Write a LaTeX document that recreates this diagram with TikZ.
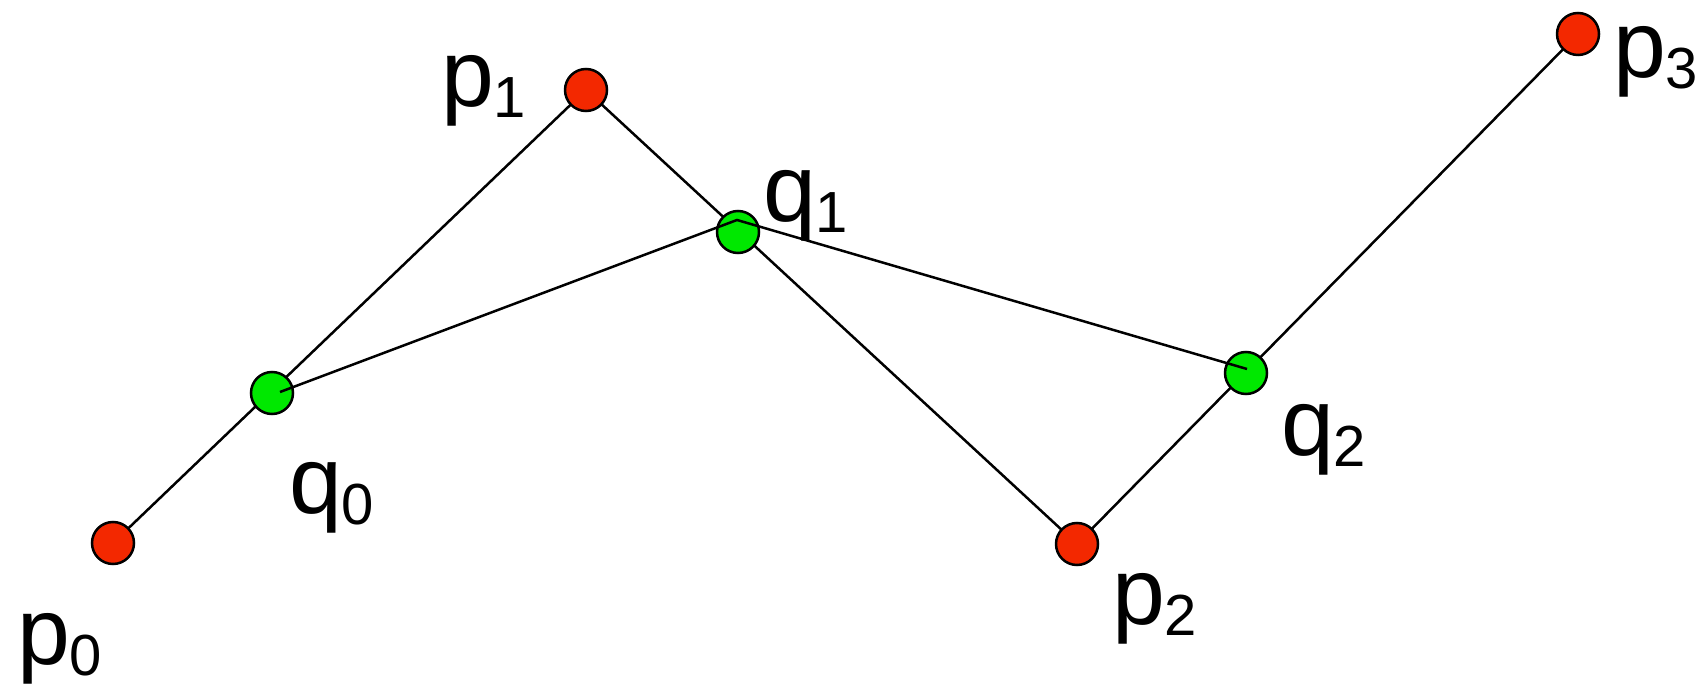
\documentclass[tikz,border=0pt]{standalone}
\usepackage{fontspec}
\setmainfont{Liberation Sans}
\usetikzlibrary{backgrounds}
\definecolor{ptred}{RGB}{243,40,0}
\definecolor{ptgreen}{RGB}{0,232,0}
\newcommand{\lbl}[2]{{\fontsize{95}{95}\selectfont #1}\raisebox{-11pt}{\fontsize{58}{58}\selectfont #2}}
\tikzset{
  pdot/.style={circle, draw=black, line width=2.5pt, fill=ptred, minimum size=42pt, inner sep=0pt},
  qdot/.style={circle, draw=black, line width=2.5pt, fill=ptgreen, minimum size=42pt, inner sep=0pt},
  seg/.style={draw=black, line width=2.5pt},
  lab/.style={anchor=base west, inner sep=0pt, outer sep=0pt}
}
\begin{document}
\begin{tikzpicture}[x=1pt, y=-1pt]
\useasboundingbox (0,0) rectangle (1707,684);
% control points
\node[pdot] (p0) at (113,543) {};
\node[pdot] (p1) at (586,90) {};
\node[pdot] (p2) at (1077,544) {};
\node[pdot] (p3) at (1578,34) {};
% points on segments
\node[qdot] (q0) at (272,393) {};
\node[qdot] (q1) at (738,232) {};
\node[qdot] (q2) at (1246,373) {};
% control polygon (behind the dots)
\begin{scope}[on background layer]
  \draw[seg] (p0.center) -- (p1.center) -- (p2.center) -- (p3.center);
\end{scope}
% polygon through q points (on top)
\coordinate (v0) at ([shift={(8,-1)}]q0.center);
\coordinate (v1) at ([shift={(-1,-12)}]q1.center);
\coordinate (v2) at ([shift={(1,-4)}]q2.center);
\draw[seg] (v0) -- (v1) -- (v2);
% labels
\node[lab] (lp0) at (17,664) {\lbl{p}{0}};
\node[lab] (lp1) at (441,107) {\lbl{p}{1}};
\node[lab] (lp2) at (1112,624) {\lbl{p}{2}};
\node[lab] (lp3) at (1613,78) {\lbl{p}{3}};
\node[lab] (lq0) at (289,513) {\lbl{q}{0}};
\node[lab] (lq1) at (763,222) {\lbl{q}{1}};
\node[lab] (lq2) at (1281,455) {\lbl{q}{2}};
\end{tikzpicture}
\end{document}
